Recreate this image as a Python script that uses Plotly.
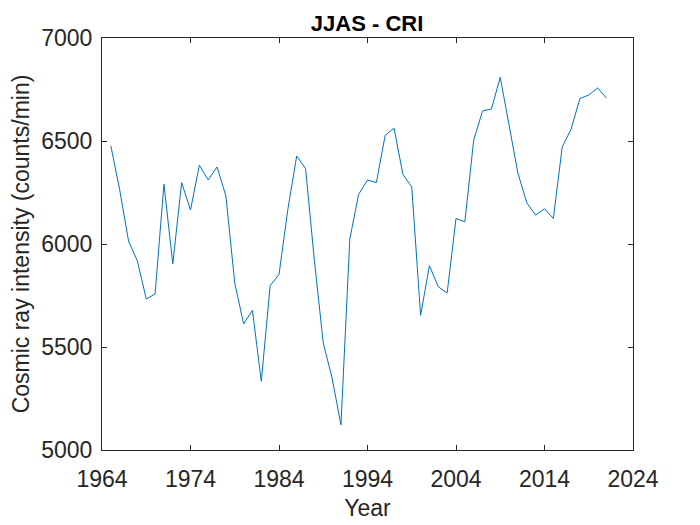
import plotly.graph_objects as go

years = list(range(1965, 2022))
cri = [6476, 6263, 6014, 5917, 5733, 5758, 6290, 5904, 6298, 6165,
       6382, 6311, 6374, 6233, 5811, 5612, 5678, 5333, 5798, 5852,
       6168, 6427, 6366, 5920, 5519, 5349, 5122, 6025, 6241, 6311,
       6298, 6528, 6562, 6338, 6277, 5654, 5895, 5792, 5762, 6124,
       6108, 6504, 6646, 6655, 6809, 6582, 6343, 6200, 6140, 6171,
       6124, 6471, 6557, 6706, 6723, 6758, 6708]

x_ticks = [1964, 1974, 1984, 1994, 2004, 2014, 2024]
y_ticks = [5000, 5500, 6000, 6500, 7000]

fig = go.Figure(go.Scatter(x=years, y=cri, mode="lines",
                           line=dict(color="#0072BD", width=1)))

axis_common = dict(showgrid=False, zeroline=False, showline=True, linecolor="#262626",
                   linewidth=1, mirror="ticks", ticks="inside", ticklen=5,
                   tickcolor="#262626", tickfont=dict(size=23, color="#262626"))

fig.update_layout(
    width=700, height=525,
    paper_bgcolor="white", plot_bgcolor="white",
    font=dict(family="Liberation Sans, Arial, sans-serif", color="#262626"),
    margin=dict(l=94, r=75, t=30, b=83),
    title=dict(text="<b>JJAS - CRI</b>", x=0.513, xanchor="center", y=0.970, yanchor="middle",
               font=dict(size=22, color="black")),
    xaxis=dict(range=[1964, 2024], tickvals=x_ticks, ticklabelstandoff=8,
               title=dict(text="Year", font=dict(size=23), standoff=9), **axis_common),
    yaxis=dict(range=[5000, 7000], tickvals=y_ticks, ticklabelstandoff=4,
               title=dict(text="Cosmic ray intensity (counts/min)", font=dict(size=23), standoff=5),
               **axis_common),
    showlegend=False,
)

fig.write_html("out.html")
